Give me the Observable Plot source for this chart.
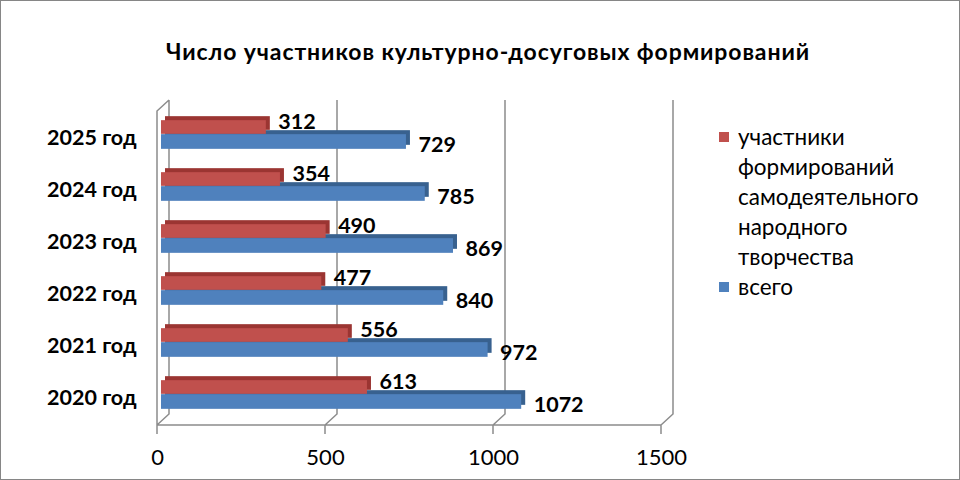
<!DOCTYPE html>
<html><head><meta charset="utf-8">
<script src="https://cdn.jsdelivr.net/npm/d3@7"></script>
<script src="https://cdn.jsdelivr.net/npm/@observablehq/plot@0.6"></script>
<style>
html,body{margin:0;padding:0;background:#fff;}
#chart{position:relative;width:960px;height:480px;box-sizing:border-box;border:1px solid #868686;overflow:hidden;font-family:Lato,"Noto Sans",sans-serif;color:#000;}
#title{position:absolute;top:36px;left:0;width:974px;text-align:center;font-weight:bold;font-size:23px;letter-spacing:0.9px;}
#plot{position:absolute;left:0;top:60px;}
#legend{position:absolute;left:718px;top:121px;font-size:22.5px;line-height:30px;}
.item{position:relative;padding-left:19px;}
.sw{position:absolute;left:0;top:10px;width:10px;height:10px;}
</style></head><body>
<div id="chart"><div id="title">Число участников культурно-досуговых формирований</div><div id="plot"></div><div id="legend"></div></div>
<script>
const years = ["2025 год","2024 год","2023 год","2022 год","2021 год","2020 год"];
const participants = [312,354,490,477,556,613];
const totals = [729,785,869,840,972,1072];
const xTicks = [0,500,1000,1500];
const legendLines = [["участники","формирований","самодеятельного","народного","творчества"],["всего"]];
const colors = ["#C0504D","#4F81BD"];
const darkColors = ["#9B3532","#38618F"];

const redData = years.map((y,i)=>({year:y, value:participants[i]}));
const blueData = years.map((y,i)=>({year:y, value:totals[i]}));

function frame3d(index, scales, values, dim) {
  const x = scales.x;
  const top = dim.marginTop, bottom = dim.height - dim.marginBottom;
  const DX = 12, DY = 11;
  const frontTop = top + 4, frontFloor = bottom + 4;
  const backTop = frontTop - DY, backFloor = frontFloor - DY;
  const g = d3.create("svg:g").attr("fill","none").attr("stroke","#8c8c8c").attr("stroke-width",1.5);
  const x0 = x(xTicks[0]), xN = x(xTicks[xTicks.length-1]);
  let d = `M${x0+DX},${backTop}L${x0},${frontTop}V${frontFloor}H${xN}`;
  for (const t of xTicks) {
    const xt = x(t);
    d += `M${xt+DX},${backTop}V${backFloor}L${xt},${frontFloor}V${frontFloor+9}`;
  }
  g.append("path").attr("d", d);
  return g.node();
}

const half = 314/6/2;
const chart = Plot.plot({
  width: 700, height: 420,
  marginLeft: 156, marginRight: 40, marginTop: 46, marginBottom: 60,
  style: {fontFamily: "Lato, 'Noto Sans', sans-serif", fontSize: "21px", color: "#000", background: "transparent", overflow: "visible"},
  x: {domain: [0, 1500]},
  y: {domain: years, padding: 0},
  marks: [
    frame3d,
    Plot.barX(blueData, {x: "value", y: "year", fill: darkColors[1], dx: 8, dy: -4, insetTop: half, insetBottom: half - 15}),
    Plot.barX(blueData, {x: "value", y: "year", fill: colors[1], dx: 4, insetTop: half, insetBottom: half - 15}),
    Plot.barX(redData, {x: "value", y: "year", fill: darkColors[0], dx: 8, dy: -4, insetTop: half - 14, insetBottom: half}),
    Plot.barX(redData, {x: "value", y: "year", fill: colors[0], dx: 4, insetTop: half - 14, insetBottom: half}),
    Plot.text(redData, {x: "value", y: "year", text: d => String(d.value), textAnchor: "start", dx: 16, dy: -12, fontWeight: "bold", fontSize: 21.5}),
    Plot.text(blueData, {x: "value", y: "year", text: d => String(d.value), textAnchor: "start", dx: 16, dy: 11, fontWeight: "bold", fontSize: 21.5}),
    Plot.axisX({ticks: xTicks, tickSize: 0, tickPadding: 28, fontSize: 22, label: null, tickFormat: d => String(d)}),
    Plot.axisY({tickSize: 0, tickPadding: 21, fontWeight: "bold", fontSize: 21.5, label: null, dy: 4})
  ]
});
document.getElementById("plot").appendChild(chart);

const legend = document.getElementById("legend");
legendLines.forEach((lines, i) => {
  const item = document.createElement("div");
  item.className = "item";
  const sw = document.createElement("div");
  sw.className = "sw";
  sw.style.background = colors[i];
  item.appendChild(sw);
  const txt = document.createElement("div");
  txt.innerHTML = lines.join("<br>");
  item.appendChild(txt);
  legend.appendChild(item);
});
</script>
</body></html>
